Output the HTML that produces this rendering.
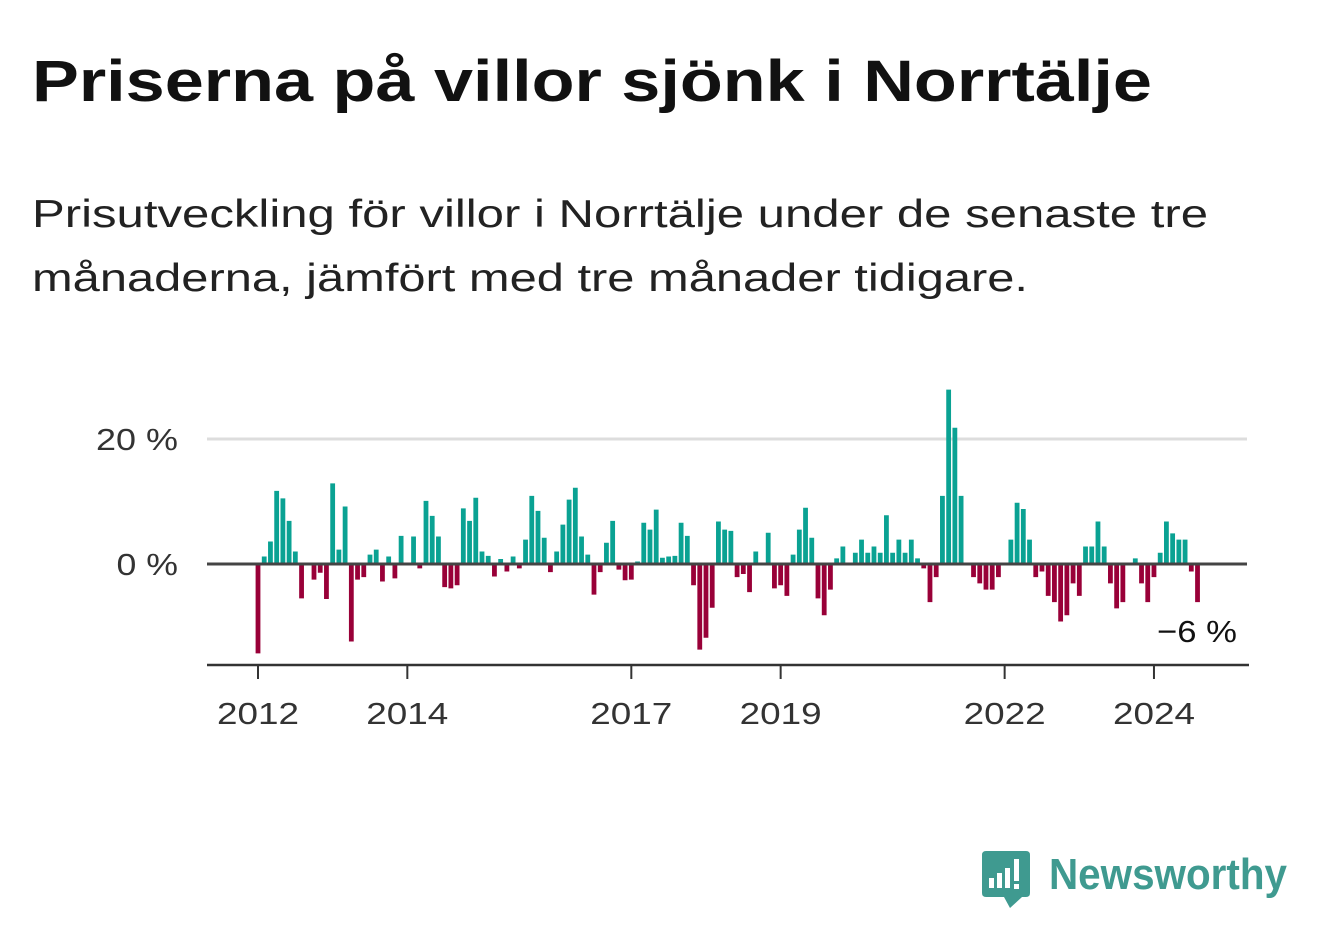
<!DOCTYPE html>
<html><head><meta charset="utf-8"><style>
html,body{margin:0;padding:0;background:#fff;}
svg{display:block;font-family:"Liberation Sans",sans-serif;}
</style></head><body>
<svg width="1322" height="939" viewBox="0 0 1322 939">
<text x="32" y="101" font-size="58" font-weight="bold" fill="#111" textLength="1120" lengthAdjust="spacingAndGlyphs">Priserna på villor sjönk i Norrtälje</text>
<text x="32" y="227" font-size="39" fill="#222" textLength="1176" lengthAdjust="spacingAndGlyphs">Prisutveckling för villor i Norrtälje under de senaste tre</text>
<text x="32" y="291" font-size="39" fill="#222" textLength="996" lengthAdjust="spacingAndGlyphs">månaderna, jämfört med tre månader tidigare.</text>
<g id="plot"></g>
<g>
<path d="M986 851 H1026 Q1030 851 1030 855 V893 Q1030 897 1026 897 H1022 L1010 908 L1004 897 H986 Q982 897 982 893 V855 Q982 851 986 851 Z" fill="#3f9a90"/>
<rect x="989" y="878" width="5" height="10" fill="#fff"/>
<rect x="997" y="873" width="5" height="15" fill="#fff"/>
<rect x="1005" y="868" width="5" height="20" fill="#fff"/>
<rect x="1014" y="859" width="5" height="22" fill="#fff"/>
<rect x="1014" y="884" width="5" height="5" fill="#fff"/>
<text x="1049" y="889" font-size="44" font-weight="bold" fill="#3f9a90" textLength="238" lengthAdjust="spacingAndGlyphs">Newsworthy</text>
</g>
</svg>
<script>
const values = [-14.3,1.2,3.6,11.7,10.5,6.9,2.0,-5.5,0,-2.5,-1.4,-5.6,
12.9,2.3,9.2,-12.4,-2.5,-2.1,1.5,2.3,-2.8,1.2,-2.3,4.5,
0,4.4,-0.7,10.1,7.7,4.4,-3.7,-3.9,-3.4,8.9,6.9,10.6,
2.0,1.3,-2.0,0.8,-1.2,1.2,-0.7,3.9,10.9,8.5,4.2,-1.3,
2.0,6.3,10.3,12.2,4.4,1.5,-4.9,-1.3,3.4,6.9,-0.9,-2.6,
-2.5,0.4,6.6,5.5,8.7,1.0,1.2,1.3,6.6,4.5,-3.4,-13.7,
-11.8,-7.0,6.8,5.5,5.3,-2.1,-1.6,-4.5,2.0,0,5.0,-3.9,
-3.4,-5.1,1.5,5.5,9.0,4.2,-5.5,-8.2,-4.1,0.9,2.8,0,
1.8,3.9,1.8,2.8,1.8,7.8,1.8,3.9,1.8,3.9,0.9,-0.7,
-6.1,-2.1,10.9,27.9,21.8,10.9,0,-2.1,-3.1,-4.1,-4.1,-2.1,
0,3.9,9.8,8.8,3.9,-2.1,-1.2,-5.1,-6.1,-9.2,-8.2,-3.1,
-5.1,2.8,2.8,6.8,2.8,-3.1,-7.1,-6.1,0,0.9,-3.1,-6.1,
-2.1,1.8,6.8,4.9,3.9,3.9,-1.2,-6.1];
const startYear = 2012;
const yearTicks = [2012,2014,2017,2019,2022,2024];
const yTicks = [0,20];
const lastLabel = "−6 %";

const NS = "http://www.w3.org/2000/svg";
const g = document.getElementById('plot');
const x = m => 258 + m * 6.222;
const y = v => 564 - v * 6.25;
function mk(tag, attrs){const e=document.createElementNS(NS,tag);for(const k in attrs)e.setAttribute(k,attrs[k]);g.appendChild(e);return e;}

yTicks.forEach(t=>{
  if(t!==0){
    const l=mk('line',{x1:207,x2:1247,y1:y(t),y2:y(t),stroke:'#dddddd','stroke-width':3});
    
    
  }
  const lbl=t+' %';
  const tx=mk('text',{x:178,y:y(t)+11,'font-size':31,fill:'#333','text-anchor':'end',textLength:lbl.length*20.5,lengthAdjust:'spacingAndGlyphs'});
  tx.textContent=lbl;
  
  
});

values.forEach((v,i)=>{
  const top=Math.min(y(v),y(0)), h=Math.abs(y(v)-y(0));
  const r=mk('rect',{x:x(i)-2.4,y:top,width:4.8,height:Math.max(h,0),fill:v>=0?'#0aa293':'#990038'});
  
  
});

const z=mk('line',{x1:207,x2:1247,y1:y(0),y2:y(0),stroke:'#444','stroke-width':3});



const ax=mk('line',{x1:207,x2:1249,y1:665,y2:665,stroke:'#333','stroke-width':2.5});



yearTicks.forEach(yr=>{
  const px=x((yr-startYear)*12);
  const t=mk('line',{x1:px,x2:px,y1:665,y2:679,stroke:'#333','stroke-width':2});
  
  
  const tx=mk('text',{x:px,y:724,'font-size':31,fill:'#333','text-anchor':'middle',textLength:82,lengthAdjust:'spacingAndGlyphs'});
  tx.textContent=yr;
  
  
});

const lab=mk('text',{x:1237,y:642,'font-size':31,fill:'#111','text-anchor':'end',textLength:80,lengthAdjust:'spacingAndGlyphs'});
lab.textContent=lastLabel;


</script>
</body></html>
